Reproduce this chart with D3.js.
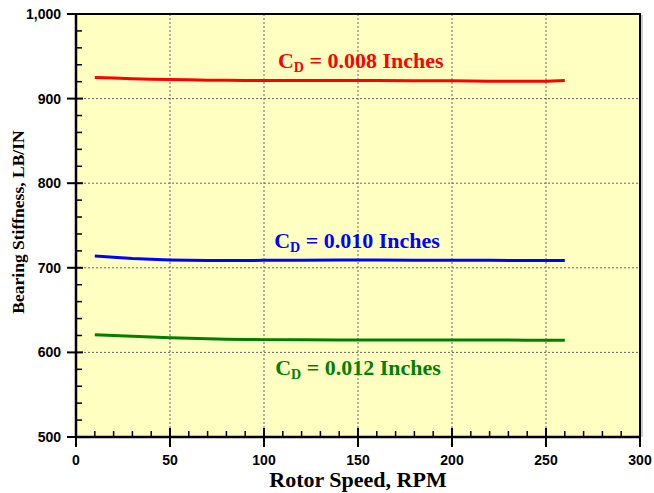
<!DOCTYPE html>
<html>
<head>
<meta charset="utf-8">
<script src="https://cdn.jsdelivr.net/npm/d3@7"></script>
<style>
  body { margin: 0; background: #fff; }
  .tick-label { font-family: "Liberation Sans", Arial, sans-serif; font-weight: bold; font-size: 14px; }
  .title { font-family: "Liberation Serif", "Times New Roman", serif; font-weight: bold; }
</style>
</head>
<body>
<svg class="chart"></svg>
<script>
let width = 654, height = 493;
let margin = { top: 14, right: 14, bottom: 56, left: 76 };
let w = width - margin.left - margin.right;
let h = height - margin.top - margin.bottom;

// data
let speeds = [10, 20, 30, 40, 50, 60, 70, 80, 90, 100, 120, 140, 160, 180, 200, 220, 240, 250, 260];
let cd008 = [924.8, 924.4, 923.6, 923.0, 922.6, 922.2, 921.8, 921.6, 921.5, 921.5, 921.4, 921.3, 921.3, 921.2, 921.2, 920.6, 920.5, 920.6, 921.3];
let cd010 = [714.0, 712.5, 711.0, 710.0, 709.2, 708.8, 708.6, 708.6, 708.7, 708.8, 709.0, 709.2, 709.2, 709.0, 708.8, 708.8, 708.7, 708.7, 708.7];
let cd012 = [620.8, 620.0, 619.0, 618.2, 617.4, 616.6, 616.0, 615.6, 615.3, 615.1, 614.9, 614.8, 614.7, 614.7, 614.6, 614.6, 614.5, 614.5, 614.5];
let seriesNames = ["0.008", "0.010", "0.012"];
let seriesColors = ["#ff0000", "#0000ff", "#007f00"];
let labelPos = [[151.5, 936], [149.5, 723], [150, 573]]; // [rpm, stiffness] of label centre baseline

let xTicks = [0, 50, 100, 150, 200, 250, 300];
let yTicks = [500, 600, 700, 800, 900, 1000];

let x = d3.scaleLinear().domain([0, 300]).range([0, w]);
let y = d3.scaleLinear().domain([500, 1000]).range([h, 0]);

let svg = d3.select(".chart")
  .attr("width", width)
  .attr("height", height);

let chart = svg.append("g")
  .attr("transform", "translate(" + margin.left + "," + margin.top + ")");

// plot background
chart.append("rect")
  .attr("x", 0).attr("y", 0)
  .attr("width", w).attr("height", h)
  .style("fill", "#ffffc2");

// grid
chart.append("g").selectAll("line")
  .data(xTicks.filter(d => d > 0 && d < 300))
  .enter().append("line")
  .attr("x1", d => x(d)).attr("x2", d => x(d))
  .attr("y1", 0).attr("y2", h)
  .style("stroke", "#666").style("stroke-width", 1).style("stroke-dasharray", "2,2");

chart.append("g").selectAll("line")
  .data(yTicks.filter(d => d > 500 && d < 1000))
  .enter().append("line")
  .attr("x1", 0).attr("x2", w)
  .attr("y1", d => y(d)).attr("y2", d => y(d))
  .style("stroke", "#666").style("stroke-width", 1).style("stroke-dasharray", "2,2");

// frame top & right with slight shadow
chart.append("line").attr("x1", 0).attr("x2", w + 1).attr("y1", 0).attr("y2", 0)
  .style("stroke", "#000").style("stroke-width", 2);
chart.append("line").attr("x1", w + 2).attr("x2", w + 2).attr("y1", 1).attr("y2", h)
  .style("stroke", "#bbb").style("stroke-width", 1.5);
chart.append("line").attr("x1", w).attr("x2", w).attr("y1", 0).attr("y2", h)
  .style("stroke", "#000").style("stroke-width", 2);

// x axis
let xAxis = chart.append("g").attr("transform", "translate(0," + h + ")");
xAxis.append("line").attr("x1", 0).attr("x2", w).attr("y1", 0).attr("y2", 0)
  .style("stroke", "#000").style("stroke-width", 2.5);
xAxis.selectAll(".minor")
  .data(d3.range(0, 301, 10).filter(d => d % 50 !== 0))
  .enter().append("line")
  .attr("x1", d => x(d)).attr("x2", d => x(d))
  .attr("y1", 0).attr("y2", -6)
  .style("stroke", "#000").style("stroke-width", 1.5);
xAxis.selectAll(".major")
  .data(xTicks)
  .enter().append("line")
  .attr("x1", d => x(d)).attr("x2", d => x(d))
  .attr("y1", -9).attr("y2", 10)
  .style("stroke", "#000").style("stroke-width", 2);
xAxis.selectAll("text")
  .data(xTicks)
  .enter().append("text")
  .attr("class", "tick-label")
  .attr("x", d => x(d)).attr("y", 28)
  .attr("text-anchor", "middle")
  .text(d => d);

// y axis
let yAxis = chart.append("g");
yAxis.append("line").attr("x1", 0).attr("x2", 0).attr("y1", 0).attr("y2", h)
  .style("stroke", "#000").style("stroke-width", 2.5);
yAxis.selectAll(".minor")
  .data(d3.range(500, 1001, 20).filter(d => d % 100 !== 0))
  .enter().append("line")
  .attr("x1", 0).attr("x2", 6)
  .attr("y1", d => y(d)).attr("y2", d => y(d))
  .style("stroke", "#000").style("stroke-width", 1.5);
yAxis.selectAll(".major")
  .data(yTicks)
  .enter().append("line")
  .attr("x1", -9).attr("x2", d => d === 1000 ? 0 : 7)
  .attr("y1", d => y(d)).attr("y2", d => y(d))
  .style("stroke", "#000").style("stroke-width", 2);
yAxis.selectAll("text")
  .data(yTicks)
  .enter().append("text")
  .attr("class", "tick-label")
  .attr("x", -15).attr("y", d => y(d) + 5)
  .attr("text-anchor", "end")
  .text(d => d3.format(",")(d));

// lines
let line = d3.line().x((d, i) => x(speeds[i])).y(d => y(d));
[cd008, cd010, cd012].forEach((s, i) => {
  chart.append("path")
    .datum(s)
    .attr("d", line)
    .style("fill", "none")
    .style("stroke", seriesColors[i])
    .style("stroke-width", 3);
});

// series labels
seriesNames.forEach((n, i) => {
  let t = chart.append("text")
    .attr("class", "title")
    .attr("x", x(labelPos[i][0])).attr("y", y(labelPos[i][1]))
    .attr("text-anchor", "middle")
    .style("font-size", "22px")
    .style("fill", seriesColors[i]);
  t.append("tspan").text("C");
  t.append("tspan").attr("dy", 4).style("font-size", "14px").text("D");
  t.append("tspan").attr("dy", -4).text(" = " + n + " Inches");
});

// axis titles
svg.append("text")
  .attr("class", "title")
  .attr("x", margin.left + w / 2).attr("y", 487)
  .attr("text-anchor", "middle")
  .style("font-size", "22px")
  .text("Rotor Speed, RPM");

svg.append("text")
  .attr("class", "title")
  .attr("transform", "translate(24,222) rotate(-90)")
  .attr("text-anchor", "middle")
  .style("font-size", "17.5px")
  .text("Bearing Stiffness, LB/IN");
</script>
</body>
</html>
